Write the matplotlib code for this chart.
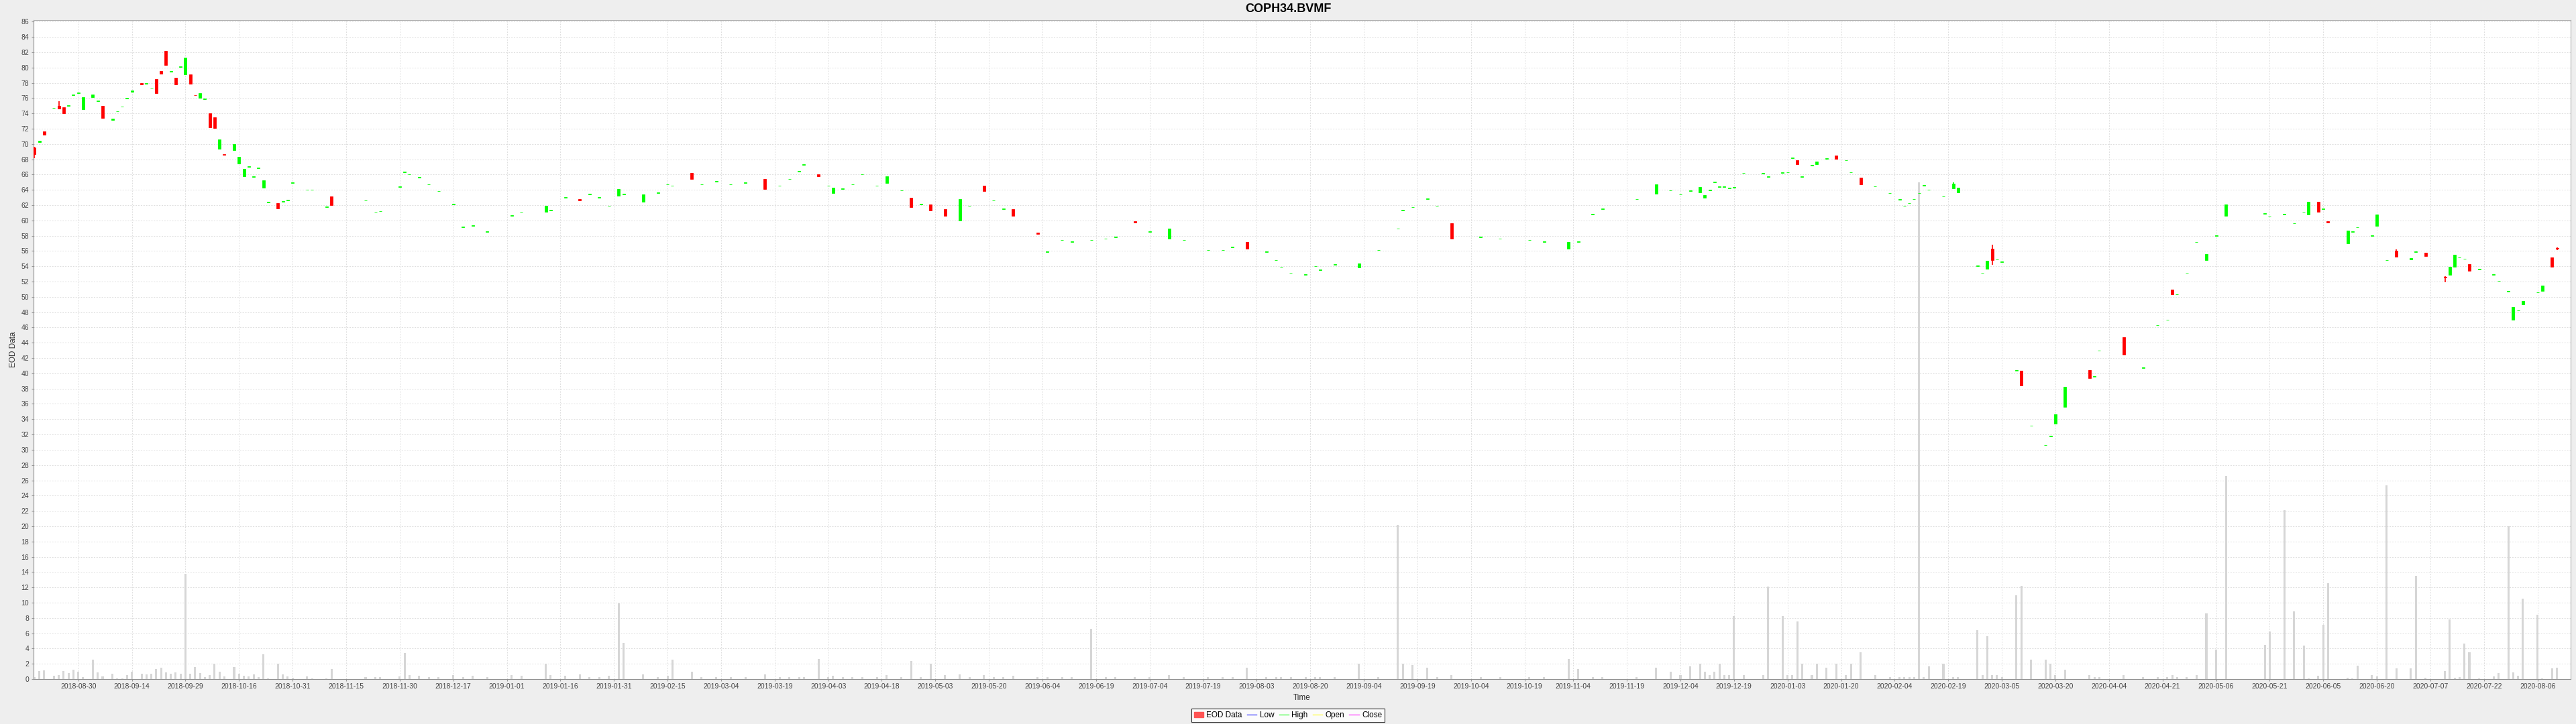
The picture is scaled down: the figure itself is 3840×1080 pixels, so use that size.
import numpy as np
import matplotlib
matplotlib.use("Agg")
import matplotlib.pyplot as plt
from matplotlib.patches import Patch
from matplotlib.lines import Line2D

plt.rcParams['font.family'] = ['Liberation Sans', 'DejaVu Sans']

# EOD data (trading days only)
dates = [
    '2018-08-17', '2018-08-20', '2018-08-21', '2018-08-23', '2018-08-24', '2018-08-27', '2018-08-28', '2018-08-29', '2018-08-30', '2018-08-31',
    '2018-09-04', '2018-09-05', '2018-09-06', '2018-09-10', '2018-09-11', '2018-09-12', '2018-09-13', '2018-09-14', '2018-09-18', '2018-09-19',
    '2018-09-20', '2018-09-21', '2018-09-24', '2018-09-25', '2018-09-26', '2018-09-27', '2018-09-28', '2018-10-01', '2018-10-02', '2018-10-03',
    '2018-10-04', '2018-10-05', '2018-10-08', '2018-10-09', '2018-10-10', '2018-10-11', '2018-10-15', '2018-10-16', '2018-10-17', '2018-10-18',
    '2018-10-19', '2018-10-22', '2018-10-23', '2018-10-24', '2018-10-26', '2018-10-29', '2018-10-30', '2018-10-31', '2018-11-05', '2018-11-06',
    '2018-11-09', '2018-11-12', '2018-11-21', '2018-11-23', '2018-11-26', '2018-11-30', '2018-12-03', '2018-12-04', '2018-12-06', '2018-12-10',
    '2018-12-12', '2018-12-17', '2018-12-19', '2018-12-21', '2018-12-26', '2019-01-02', '2019-01-04', '2019-01-11', '2019-01-14', '2019-01-17',
    '2019-01-22', '2019-01-24', '2019-01-28', '2019-01-30', '2019-02-01', '2019-02-04', '2019-02-08', '2019-02-13', '2019-02-15', '2019-02-18',
    '2019-02-22', '2019-02-26', '2019-03-01', '2019-03-06', '2019-03-11', '2019-03-15', '2019-03-20', '2019-03-22', '2019-03-26', '2019-03-27',
    '2019-04-01', '2019-04-03', '2019-04-04', '2019-04-08', '2019-04-10', '2019-04-12', '2019-04-17', '2019-04-19', '2019-04-24', '2019-04-26',
    '2019-04-30', '2019-05-02', '2019-05-07', '2019-05-10', '2019-05-14', '2019-05-17', '2019-05-21', '2019-05-23', '2019-05-27', '2019-06-03',
    '2019-06-05', '2019-06-10', '2019-06-12', '2019-06-18', '2019-06-21', '2019-06-25', '2019-07-01', '2019-07-04', '2019-07-10', '2019-07-15',
    '2019-07-22', '2019-07-25', '2019-07-29', '2019-08-01', '2019-08-07', '2019-08-09', '2019-08-12', '2019-08-14', '2019-08-19', '2019-08-21',
    '2019-08-22', '2019-08-27', '2019-09-03', '2019-09-09', '2019-09-13', '2019-09-16', '2019-09-18', '2019-09-23', '2019-09-25', '2019-09-30',
    '2019-10-08', '2019-10-14', '2019-10-22', '2019-10-25', '2019-11-01', '2019-11-05', '2019-11-08', '2019-11-12', '2019-11-21', '2019-11-27',
    '2019-12-02', '2019-12-04', '2019-12-06', '2019-12-10', '2019-12-11', '2019-12-12', '2019-12-13', '2019-12-16', '2019-12-17', '2019-12-18',
    '2019-12-19', '2019-12-23', '2019-12-27', '2019-12-30', '2020-01-02', '2020-01-03', '2020-01-06', '2020-01-07', '2020-01-08', '2020-01-10',
    '2020-01-13', '2020-01-15', '2020-01-17', '2020-01-21', '2020-01-22', '2020-01-24', '2020-01-29', '2020-02-03', '2020-02-05', '2020-02-06',
    '2020-02-07', '2020-02-10', '2020-02-11', '2020-02-12', '2020-02-13', '2020-02-18', '2020-02-20', '2020-02-21', '2020-02-27', '2020-02-28',
    '2020-03-02', '2020-03-03', '2020-03-04', '2020-03-05', '2020-03-10', '2020-03-11', '2020-03-13', '2020-03-18', '2020-03-19', '2020-03-20',
    '2020-03-24', '2020-03-31', '2020-04-01', '2020-04-02', '2020-04-09', '2020-04-15', '2020-04-20', '2020-04-22', '2020-04-23', '2020-04-24',
    '2020-04-28', '2020-04-30', '2020-05-04', '2020-05-06', '2020-05-08', '2020-05-20', '2020-05-21', '2020-05-26', '2020-05-28', '2020-06-01',
    '2020-06-02', '2020-06-04', '2020-06-05', '2020-06-08', '2020-06-12', '2020-06-15', '2020-06-16', '2020-06-19', '2020-06-22', '2020-06-24',
    '2020-06-26', '2020-07-01', '2020-07-02', '2020-07-06', '2020-07-10', '2020-07-13', '2020-07-14', '2020-07-15', '2020-07-16', '2020-07-17',
    '2020-07-21', '2020-07-24', '2020-07-27', '2020-07-29', '2020-07-30', '2020-07-31', '2020-08-03', '2020-08-06', '2020-08-07', '2020-08-11',
    '2020-08-12',
]

opens = [
    69.5, 70.2, 71.6, 74.7, 75.0, 74.8, 74.95, 76.35, 76.65, 74.55,
    76.15, 75.55, 75.0, 73.1, 74.25, 74.85, 75.95, 76.8, 78.0, 77.9,
    77.3, 78.45, 79.5, 82.2, 79.45, 78.7, 80.1, 79.1, 79.1, 76.4,
    76.05, 75.85, 74.0, 73.5, 69.4, 68.65, 69.2, 67.4, 65.8, 67.0,
    65.7, 66.85, 64.25, 62.35, 62.3, 62.45, 62.65, 64.9, 64.0, 64.0,
    61.75, 63.1, 62.6, 61.0, 61.2, 64.4, 66.3, 66.0, 65.6, 64.7,
    63.8, 62.1, 59.1, 59.3, 58.5, 60.6, 61.1, 61.1, 61.3, 63.0,
    62.8, 63.4, 63.0, 61.9, 63.2, 63.4, 62.4, 63.6, 64.7, 64.5,
    66.2, 64.7, 65.1, 64.7, 64.9, 65.4, 64.5, 65.4, 66.4, 67.3,
    66.0, 64.5, 63.6, 64.1, 64.7, 66.0, 64.5, 64.9, 63.9, 63.0,
    62.1, 62.1, 61.5, 60.0, 61.9, 64.5, 62.6, 61.5, 61.5, 58.4,
    55.9, 57.4, 57.2, 57.4, 57.6, 57.8, 59.9, 58.5, 57.6, 57.4,
    56.1, 56.1, 56.5, 57.2, 55.9, 54.8, 53.8, 53.1, 52.9, 54.0,
    53.5, 54.2, 53.8, 56.1, 58.9, 61.3, 61.7, 62.8, 61.9, 59.6,
    57.8, 57.6, 57.4, 57.2, 56.3, 57.2, 60.8, 61.5, 62.75, 63.47,
    63.9, 63.38, 63.88, 63.65, 62.94, 63.94, 64.99, 64.38, 64.4, 64.23,
    64.29, 66.19, 66.16, 65.69, 66.25, 66.28, 68.15, 67.86, 65.72, 67.21,
    67.36, 68.06, 68.53, 67.83, 66.28, 65.58, 64.44, 63.56, 62.73, 61.89,
    62.24, 62.77, 63.56, 64.58, 64.0, 63.12, 64.23, 63.67, 54.04, 53.11,
    53.66, 56.27, 54.87, 54.57, 40.35, 40.35, 33.15, 30.6, 31.78, 33.41,
    35.64, 40.43, 39.56, 42.93, 44.74, 40.73, 46.26, 46.97, 50.97, 50.33,
    53.02, 57.15, 54.78, 58.0, 60.6, 60.9, 60.5, 60.8, 59.6, 61.0,
    60.8, 62.4, 61.5, 59.9, 57.0, 58.5, 59.1, 58.0, 59.3, 54.8,
    56.06, 54.9, 55.9, 55.77, 52.6, 52.9, 53.93, 55.13, 54.95, 54.25,
    53.6, 52.9, 52.05, 50.7, 47.0, 48.2, 49.0, 50.56, 50.8, 55.18,
    56.35,
]

closes = [
    68.7, 70.4, 71.2, 74.75, 74.6, 74.05, 75.05, 76.45, 76.75, 76.1,
    76.45, 75.65, 73.4, 73.3, 74.3, 74.9, 76.0, 77.0, 77.75, 77.95,
    77.35, 76.6, 79.2, 80.3, 79.5, 77.8, 80.15, 81.3, 77.85, 76.35,
    76.65, 75.9, 72.2, 72.05, 70.6, 68.55, 70.0, 68.3, 66.7, 67.05,
    65.75, 66.9, 65.2, 62.4, 61.6, 62.5, 62.7, 64.95, 64.05, 64.05,
    61.8, 62.0, 62.65, 61.05, 61.25, 64.45, 66.35, 66.05, 65.65, 64.75,
    63.85, 62.15, 59.15, 59.35, 58.55, 60.65, 61.15, 61.9, 61.35, 63.05,
    62.6, 63.45, 63.05, 61.95, 64.1, 63.45, 63.4, 63.65, 64.75, 64.55,
    65.4, 64.75, 65.15, 64.75, 64.95, 64.1, 64.55, 65.45, 66.45, 67.35,
    65.8, 64.55, 64.3, 64.15, 64.75, 66.05, 64.55, 65.8, 63.95, 61.7,
    62.15, 61.3, 60.6, 62.8, 61.95, 63.8, 62.65, 61.55, 60.6, 58.2,
    55.95, 57.45, 57.25, 57.45, 57.65, 57.85, 59.7, 58.55, 58.9, 57.45,
    56.15, 56.15, 56.55, 56.3, 55.95, 54.85, 53.85, 53.15, 52.95, 54.05,
    53.55, 54.25, 54.4, 56.15, 58.95, 61.35, 61.75, 62.85, 61.95, 57.6,
    57.85, 57.65, 57.45, 57.25, 57.2, 57.25, 60.85, 61.55, 62.8, 64.7,
    63.95, 63.42, 63.92, 64.38, 63.35, 63.98, 65.03, 64.42, 64.44, 64.27,
    64.33, 66.23, 66.2, 65.73, 66.29, 66.32, 68.19, 67.39, 65.76, 67.25,
    67.68, 68.1, 68.06, 67.87, 66.32, 64.75, 64.48, 63.6, 62.77, 61.93,
    62.28, 62.81, 63.6, 64.62, 64.04, 63.16, 64.84, 64.26, 54.08, 53.15,
    54.69, 54.83, 54.91, 54.61, 40.39, 38.45, 33.19, 30.64, 31.82, 34.64,
    38.2, 39.33, 39.6, 42.97, 42.4, 40.77, 46.3, 47.01, 50.3, 50.37,
    53.06, 57.19, 55.6, 58.04, 62.1, 60.94, 60.54, 60.84, 59.64, 61.04,
    62.4, 61.1, 61.54, 59.7, 58.7, 58.54, 59.14, 58.04, 60.8, 54.84,
    55.27, 55.07, 55.94, 55.33, 52.5, 53.93, 55.5, 55.17, 54.99, 53.43,
    53.64, 52.94, 52.09, 50.74, 48.66, 48.24, 49.5, 50.6, 51.45, 53.95,
    56.3,
]

volumes = [
    0.3, 1.07, 1.16, 0.44, 0.55, 1.07, 0.76, 1.25, 0.93, 0.29,
    2.53, 0.84, 0.38, 0.70, 0.12, 0.12, 0.55, 0.93, 0.70, 0.61,
    0.70, 1.34, 1.51, 0.84, 0.70, 0.84, 0.70, 13.74, 0.70, 1.57,
    0.76, 0.29, 0.55, 2.04, 0.99, 0.38, 1.57, 0.70, 0.47, 0.38,
    0.61, 0.29, 3.27, 0.12, 1.98, 0.61, 0.38, 0.20, 0.38, 0.12,
    0.12, 1.34, 0.29, 0.29, 0.29, 0.38, 3.4, 0.5, 0.4, 0.3,
    0.3, 0.5, 0.3, 0.4, 0.3, 0.5, 0.4, 2.0, 0.5, 0.4,
    0.6, 0.3, 0.3, 0.4, 9.9, 4.7, 0.6, 0.3, 0.4, 2.5,
    1.0, 0.3, 0.3, 0.3, 0.3, 0.6, 0.3, 0.3, 0.3, 0.3,
    2.6, 0.3, 0.4, 0.3, 0.3, 0.3, 0.3, 0.5, 0.3, 2.4,
    0.3, 2.0, 0.5, 0.6, 0.3, 0.5, 0.3, 0.3, 0.4, 0.3,
    0.3, 0.3, 0.3, 6.6, 0.3, 0.3, 0.3, 0.3, 0.5, 0.3,
    0.3, 0.3, 0.3, 1.5, 0.3, 0.3, 0.3, 0.3, 0.3, 0.3,
    0.3, 0.3, 2.0, 0.3, 20.2, 2.0, 1.8, 1.5, 0.3, 0.5,
    0.3, 0.3, 0.3, 0.3, 2.6, 1.3, 0.3, 0.3, 0.3, 1.5,
    1.0, 0.5, 1.7, 2.0, 1.0, 0.5, 1.0, 2.0, 0.5, 0.5,
    8.2, 0.5, 0.5, 12.1, 8.2, 0.5, 0.5, 7.5, 2.0, 0.5,
    2.0, 1.5, 2.0, 0.5, 2.0, 3.5, 0.5, 0.3, 0.3, 0.3,
    0.3, 0.3, 65.0, 0.3, 1.7, 2.0, 0.3, 0.3, 6.4, 0.5,
    5.6, 0.5, 0.5, 0.3, 11.0, 12.2, 2.5, 2.5, 2.0, 0.5,
    1.2, 0.5, 0.3, 0.3, 0.5, 0.3, 0.3, 0.3, 0.5, 0.3,
    0.3, 0.5, 8.6, 3.9, 26.6, 4.5, 6.2, 22.1, 8.87, 4.37,
    0.1, 0.44, 7.13, 12.5, 0.2, 0.1, 1.71, 0.52, 0.38, 25.3,
    1.4, 1.4, 13.5, 0.17, 1.08, 7.83, 0.2, 0.26, 4.68, 3.52,
    0.1, 0.32, 0.79, 20.0, 0.84, 0.41, 10.5, 8.38, 0.1, 1.43,
    1.52,
]

# the few candles whose high/low wick shows beyond the body
wick_dates = ['2018-08-17', '2018-08-24', '2020-02-20', '2020-03-03', '2020-06-26', '2020-07-10', '2020-08-12']
wick_highs = [69.6, 75.6, 65.0, 56.8, 56.2, 52.7, 56.5]
wick_lows = [68.1, 74.6, 64.23, 54.2, 55.27, 51.9, 56.1]

tick_dates = [
    '2018-08-30', '2018-09-14', '2018-09-29', '2018-10-16', '2018-10-31', '2018-11-15', '2018-11-30', '2018-12-17',
    '2019-01-01', '2019-01-16', '2019-01-31', '2019-02-15', '2019-03-04', '2019-03-19', '2019-04-03', '2019-04-18',
    '2019-05-03', '2019-05-20', '2019-06-04', '2019-06-19', '2019-07-04', '2019-07-19', '2019-08-03', '2019-08-20',
    '2019-09-04', '2019-09-19', '2019-10-04', '2019-10-19', '2019-11-04', '2019-11-19', '2019-12-04', '2019-12-19',
    '2020-01-03', '2020-01-20', '2020-02-04', '2020-02-19', '2020-03-05', '2020-03-20', '2020-04-04', '2020-04-21',
    '2020-05-06', '2020-05-21', '2020-06-05', '2020-06-20', '2020-07-07', '2020-07-22', '2020-08-06',
]

# Monday-Friday timeline: weekends are skipped on the time axis
start = np.datetime64(dates[0])
x = np.busday_count(start, np.array(dates, dtype='datetime64[D]'))
xt = np.busday_count(start, np.array(tick_dates, dtype='datetime64[D]'))
xw = np.busday_count(start, np.array(wick_dates, dtype='datetime64[D]'))
o = np.array(opens)
c = np.array(closes)

fig = plt.figure(figsize=(38.4, 10.8), dpi=100, facecolor='#EEEEEE')
ax = fig.add_axes([50 / 3840, 1 - 1013 / 1080, 3782 / 3840, 983 / 1080])
ax.set_facecolor('white')

# volume bars share the price axis
ax.bar(x, volumes, width=0.42, color='#D6D6D6', zorder=2)

up = c >= o
colors = np.where(up, '#00FF00', '#FF0000')
ax.vlines(xw, wick_lows, wick_highs, colors=np.where(np.isin(xw, x[up]), '#00FF00', '#FF0000'), lw=1.2, zorder=3)
ax.bar(x, np.abs(c - o), bottom=np.minimum(o, c), width=0.55, color=colors,
       edgecolor=colors, linewidth=0.6, zorder=4)

ax.set_xlim(-0.19, 520.8)
ax.set_ylim(0, 86.2)
ax.set_yticks(np.arange(0, 87, 2))
ax.set_xticks(xt)
ax.set_xticklabels(tick_dates)

ax.grid(True, color='#DEDEDE', linestyle=(0, (2, 2)), linewidth=0.7)
ax.set_axisbelow(True)
ax.tick_params(axis='both', labelsize=7.5, labelcolor='#444444', color='#999999', length=2)
ax.tick_params(axis='x', pad=2)
ax.tick_params(axis='y', pad=3)
for s in ax.spines.values():
    s.set_color('#B0B0B0')
ax.spines['left'].set_color('#909090')
ax.spines['bottom'].set_color('#909090')

fig.text(0.5, 1 - 13 / 1080, 'COPH34.BVMF', ha='center', va='center', fontsize=13, fontweight='bold')
fig.text(20 / 3840, 1 - 521 / 1080, 'EOD Data', rotation=90, ha='center', va='center', fontsize=8.5, color='#333333')
fig.text(1941 / 3840, 1 - 1041 / 1080, 'Time', ha='center', va='center', fontsize=8.5, color='#333333')

handles = [
    Patch(facecolor='#FF5555', edgecolor='#FF5555'),
    Line2D([], [], color='#5555FF', lw=1),
    Line2D([], [], color='#55FF55', lw=1),
    Line2D([], [], color='#FFFF55', lw=1),
    Line2D([], [], color='#FF55FF', lw=1),
]
leg = fig.legend(handles, ['EOD Data', 'Low', 'High', 'Open', 'Close'], loc='center',
                 bbox_to_anchor=(1920 / 3840, 1 - 1067 / 1080), ncol=5, fontsize=8.5,
                 frameon=True, fancybox=False, handlelength=1.2, handleheight=0.7,
                 handletextpad=0.4, columnspacing=0.6, borderpad=0.3)
leg.get_frame().set_edgecolor('black')
leg.get_frame().set_linewidth(0.8)
leg.get_frame().set_facecolor('white')

fig.savefig('out.png', dpi=100, facecolor=fig.get_facecolor())
